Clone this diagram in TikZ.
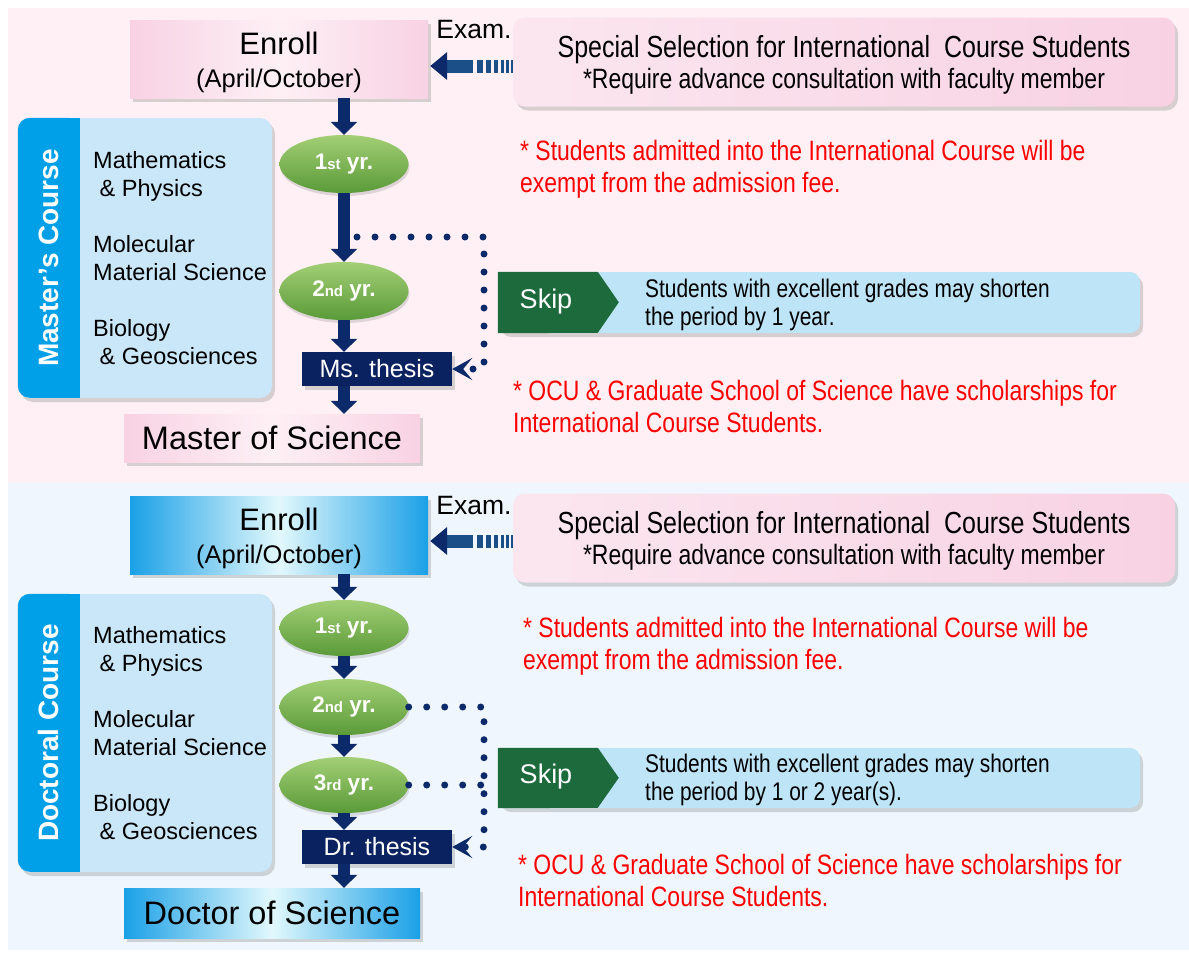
\documentclass[tikz,border=0pt]{standalone}
\usepackage{fontspec}
\setmainfont{Liberation Sans}
\newfontfamily\narrowfont[FakeStretch=0.82]{Liberation Sans}
\usetikzlibrary{shapes,arrows.meta,shadows}
\definecolor{bgpink}{HTML}{FEF0F4}
\definecolor{bgblue}{HTML}{EFF6FD}
\definecolor{pinkbox}{HTML}{F8D2E3}
\definecolor{pinklight}{HTML}{FDF0F5}
\definecolor{cyanbox}{HTML}{1AA0E6}
\definecolor{cyanlight}{HTML}{E2F8FC}
\definecolor{navyA}{HTML}{0C2A6A}
\definecolor{thesisC}{HTML}{0A2260}
\definecolor{stripC}{HTML}{00A0E9}
\definecolor{bodyC}{HTML}{C9E7F8}
\definecolor{skipblue}{HTML}{BEE4F8}
\definecolor{skipgreen}{HTML}{1D6A3C}
\definecolor{yrtop}{HTML}{A3CF76}
\definecolor{yrbot}{HTML}{5A9A38}
\definecolor{noteC}{HTML}{FF0000}
\definecolor{barsC}{HTML}{1A4F88}

\begin{document}
\begin{tikzpicture}[x=1pt,y=-1pt,node distance=79pt]
\tikzstyle{shadow}=[drop shadow={shadow xshift=3pt,shadow yshift=-4pt,opacity=.3}]
\tikzstyle{enroll}=[rectangle,minimum width=298pt,minimum height=78pt,inner sep=0pt,align=center,shadow]
\tikzstyle{enrolltext}=[align=center,inner sep=0pt,font=\fontsize{25.5}{33}\selectfont]
\tikzstyle{pinkfill}=[left color=pinkbox,right color=pinkbox,middle color=pinklight]
\tikzstyle{bluefill}=[left color=cyanbox,right color=cyanbox,middle color=cyanlight]
\tikzstyle{special}=[rectangle,rounded corners=12pt,minimum width=662pt,minimum height=89pt,left color=pinkbox!55!white,right color=pinkbox,shadow]
\tikzstyle{specialtext}=[align=center,inner sep=0pt,font=\narrowfont\fontsize{30.5}{31}\selectfont]
\tikzstyle{exam}=[font=\fontsize{26.5}{26.5}\selectfont]
\tikzstyle{yr}=[ellipse,minimum width=129pt,minimum height=58pt,inner sep=0pt,top color=yrtop,bottom color=yrbot,text=white,font=\bfseries\fontsize{22.5}{22.5}\selectfont,drop shadow={shadow xshift=1pt,shadow yshift=-3pt,opacity=.25}]
\tikzstyle{thesis}=[rectangle,fill=thesisC,text=white,minimum width=150pt,minimum height=34pt,inner sep=0pt,shadow,font=\fontsize{25}{25}\selectfont]
\tikzstyle{degree}=[rectangle,minimum width=296pt,minimum height=48pt,inner sep=0pt,shadow,font=\fontsize{32.5}{32.5}\selectfont]
\tikzstyle{course}=[rectangle,rounded corners=12pt,fill=bodyC,minimum width=254pt,minimum height=280pt,shadow]
\tikzstyle{coursename}=[rotate=90,text=white,font=\bfseries\fontsize{28}{28}\selectfont]
\tikzstyle{subjects}=[anchor=west,align=left,inner sep=0pt,font=\fontsize{23.5}{28}\selectfont]
\tikzstyle{skipbox}=[rectangle,rounded corners=10pt,fill=skipblue,minimum width=642pt,minimum height=61pt,shadow]
\tikzstyle{skiplabel}=[text=white,font=\fontsize{27}{27}\selectfont]
\tikzstyle{skiptext}=[anchor=west,align=left,inner sep=0pt,font=\narrowfont\fontsize{25.5}{28}\selectfont]
\tikzstyle{notes}=[anchor=west,align=left,inner sep=0pt,text=noteC,font=\narrowfont\fontsize{28}{32}\selectfont]
\tikzstyle{flow}=[draw=navyA,line width=12pt,-{Triangle[width=26pt,length=13pt]}]
\tikzstyle{examline}=[draw=barsC,line width=13pt,dash pattern=on 2pt off 2pt on 2.5pt off 2.5pt on 3pt off 3pt on 4pt off 3pt on 5pt off 3pt on 6pt off 4pt on 40pt,-{Triangle[width=27pt,length=17pt,color=navyA]},shorten >=2pt]
\tikzstyle{skipdots}=[draw=navyA,line width=7pt,line cap=round,dash pattern=on 0pt off 18pt]
\tikzstyle{skipline}=[skipdots,-{Stealth[length=20pt,width=22pt,inset=9pt]}]

\useasboundingbox (0,0) rectangle (1189,953);
\fill[bgpink] (8,8) rectangle (1189,483);
\fill[bgblue] (8,483) rectangle (1189,950);

% Master's course
\node[enroll,pinkfill] (enM) at (279,59) {};
\node[enrolltext] (enTM) at ([yshift=-3pt]enM) {{\fontsize{31}{33}\selectfont Enroll}\\(April/October)};
\node[exam]    (exM) at (474,30) {Exam.};
\node[special] (spM) at (844,62) {};
\node[specialtext] (spTM) at ([yshift=-3pt]spM) {Special Selection for International~ Course Students\\{\fontsize{28}{31}\selectfont *Require advance consultation with faculty member}};
\node[course]  (mcBox) at (145,258) {};
\fill[stripC,rounded corners=12pt] (mcBox.north west) rectangle ++(62,280);
\fill[stripC] (mcBox.north west) ++(45,0) rectangle ++(17,280);
\node[coursename] (mcName) at ([xshift=31pt]mcBox.west) {Master's Course};
\node[subjects] (mcSub) at (93,258) {Mathematics\\\ \&~Physics\\[28pt]Molecular\\Material Science\\[28pt]Biology\\\ \&~Geosciences};
\node[yr]      (y1M) at (344,164) {1{\fontsize{15}{15}\selectfont st} yr.};
\node[yr,node distance=127pt] (y2M) [below of=y1M] {2{\fontsize{15}{15}\selectfont nd} yr.};
\node[thesis]  (msT) at (377,369) {Ms. thesis};
\node[degree,pinkfill] (msDeg) at (272,438) {Master of Science};
\node[skipbox] (skM) at (819,302.5) {};
\fill[skipgreen] (skM.north west) -- ++(100,0) -- ++(21,30.5) -- ++(-21,30.5) -- (skM.south west) -- cycle;
\node[skiplabel] (skLM) at (546,302) {Skip};
\node[skiptext]  (skTM) at (645,305) {Students with excellent grades may shorten\\the period by 1 year.};
\node[notes] (feeM) at (520,169) {* Students admitted into the International Course will be\\exempt from the admission fee.};
\node[notes] (schM) at (513,406) {* OCU \& Graduate School of Science have scholarships for\\International Course Students.};
\coordinate (mDot)  at (357,237);
\coordinate (mBend) at (484,369);

\path
(enM.south -| y1M) edge[flow] (y1M)
(y1M)              edge[flow] (y2M)
(y2M)              edge[flow] (y2M |- msT.north)
(msT.south -| y2M) edge[flow] (y2M |- msDeg.north);
\draw[examline] ([yshift=-4pt]spM.west) -- ([yshift=-7pt]enM.east);
\draw[skipline] (mDot) -| (mBend) -- (msT.east);

% Doctoral course
\node[enroll,bluefill] (enD) at (279,535) {};
\node[enrolltext] (enTD) at ([yshift=-3pt]enD) {{\fontsize{31}{33}\selectfont Enroll}\\(April/October)};
\node[exam]    (exD) at (474,506) {Exam.};
\node[special] (spD) at (844,538) {};
\node[specialtext] (spTD) at ([yshift=-3pt]spD) {Special Selection for International~ Course Students\\{\fontsize{28}{31}\selectfont *Require advance consultation with faculty member}};
\node[course,minimum height=278pt] (dcBox) at (145,733) {};
\fill[stripC,rounded corners=12pt] (dcBox.north west) rectangle ++(62,278);
\fill[stripC] (dcBox.north west) ++(45,0) rectangle ++(17,278);
\node[coursename] (dcName) at ([xshift=31pt]dcBox.west) {Doctoral Course};
\node[subjects] (dcSub) at (93,733) {Mathematics\\\ \&~Physics\\[28pt]Molecular\\Material Science\\[28pt]Biology\\\ \&~Geosciences};
\node[yr,minimum height=56pt] (y1D) at (344,628) {1{\fontsize{15}{15}\selectfont st} yr.};
\node[yr,minimum height=56pt] (y2D) [below of=y1D] {2{\fontsize{15}{15}\selectfont nd} yr.};
\node[yr,minimum height=56pt,node distance=78pt] (y3D) [below of=y2D] {3{\fontsize{15}{15}\selectfont rd} yr.};
\node[thesis]  (drT) at (377,847) {Dr. thesis};
\node[degree,bluefill,minimum height=50pt] (dcDeg) at (272,913) {Doctor of Science};
\node[skipbox,minimum height=60pt] (skD) at (819,778) {};
\fill[skipgreen] (skD.north west) -- ++(100,0) -- ++(21,30) -- ++(-21,30) -- (skD.south west) -- cycle;
\node[skiplabel] (skLD) at (546,777) {Skip};
\node[skiptext]  (skTD) at (645,780) {Students with excellent grades may shorten\\the period by 1 or 2 year(s).};
\node[notes] (feeD) at (523,646) {* Students admitted into the International Course will be\\exempt from the admission fee.};
\node[notes] (schD) at (518,880) {* OCU \& Graduate School of Science have scholarships for\\International Course Students.};
\coordinate (dBend) at (484,847);

\path
(enD.south -| y1D) edge[flow] (y1D)
(y1D)              edge[flow] (y2D)
(y2D)              edge[flow] (y3D)
(y3D)              edge[flow] (y3D |- drT.north)
(drT.south -| y3D) edge[flow] (y3D |- dcDeg.north);
\draw[examline] ([yshift=-3pt]spD.west) -- ([yshift=-6pt]enD.east);
\draw[skipline] (y2D.east) -| (dBend) -- (drT.east);
\draw[skipdots] (y3D.east) -- (y3D.east -| dBend);
\end{tikzpicture}
\end{document}
